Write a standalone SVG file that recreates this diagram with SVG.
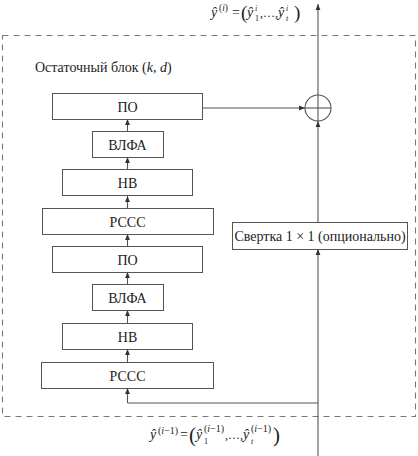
<svg xmlns="http://www.w3.org/2000/svg" width="418" height="456" viewBox="0 0 418 456" font-family="'Liberation Serif','DejaVu Serif',serif">
<defs>
<marker id="ah" viewBox="0 0 8 8" refX="8" refY="4" markerWidth="6" markerHeight="6" orient="auto" markerUnits="userSpaceOnUse">
<path d="M0,0.8 L8,4 L0,7.2 Z" fill="#333"/>
</marker>
<style>
.box{fill:#fff;stroke:#555;stroke-width:1}
.ln{fill:none;stroke:#555;stroke-width:1.1}
text{font-family:'Liberation Serif','DejaVu Serif',serif;fill:#222}
.lbl{font-size:14px;text-anchor:middle}
.it{font-style:italic}
</style>
</defs>
<rect x="2.5" y="35.5" width="413" height="381" fill="none" stroke="#777" stroke-width="1.1" stroke-dasharray="6,5"/>
<text x="35" y="72" font-size="14">Остаточный блок (<tspan class="it">k</tspan>, <tspan class="it">d</tspan>)</text>
<g id="connectors">
<line class="ln" x1="127.5" y1="403" x2="127.5" y2="388" marker-end="url(#ah)"/>
<line class="ln" x1="127.5" y1="362" x2="127.5" y2="349" marker-end="url(#ah)"/>
<line class="ln" x1="127.5" y1="323" x2="127.5" y2="310" marker-end="url(#ah)"/>
<line class="ln" x1="127.5" y1="284" x2="127.5" y2="272" marker-end="url(#ah)"/>
<line class="ln" x1="127.5" y1="246" x2="127.5" y2="234" marker-end="url(#ah)"/>
<line class="ln" x1="127.5" y1="208" x2="127.5" y2="196" marker-end="url(#ah)"/>
<line class="ln" x1="127.5" y1="169" x2="127.5" y2="157" marker-end="url(#ah)"/>
<line class="ln" x1="127.5" y1="131" x2="127.5" y2="119" marker-end="url(#ah)"/>
<polyline class="ln" points="318,403 127.5,403"/>
<line class="ln" x1="318" y1="456" x2="318" y2="249" marker-end="url(#ah)"/>
<line class="ln" x1="318" y1="222" x2="318" y2="121" marker-end="url(#ah)"/>
<line class="ln" x1="202" y1="108" x2="305" y2="108" marker-end="url(#ah)"/>
<line class="ln" x1="318" y1="95" x2="318" y2="4" marker-end="url(#ah)"/>
</g>
<g id="sum">
<circle cx="318" cy="108" r="13" fill="none" stroke="#555" stroke-width="1.1"/>
<line class="ln" x1="305" y1="108" x2="331" y2="108"/>
<line class="ln" x1="318" y1="95" x2="318" y2="121"/>
</g>
<g id="po1"><rect class="box" x="52.5" y="93.5" width="150" height="26"/><text class="lbl" x="127.5" y="111.5">ПО</text></g>
<g id="vlfa1"><rect class="box" x="92.5" y="131.5" width="71" height="26"/><text class="lbl" x="127.5" y="149.5">ВЛФА</text></g>
<g id="nv1"><rect class="box" x="62.5" y="169.5" width="130" height="26"/><text class="lbl" x="127.5" y="187.5">НВ</text></g>
<g id="rsss1"><rect class="box" x="42.5" y="208.5" width="171" height="26"/><text class="lbl" x="127.5" y="226.5">РССС</text></g>
<g id="po2"><rect class="box" x="52.5" y="246.5" width="150" height="26"/><text class="lbl" x="127.5" y="264.5">ПО</text></g>
<g id="vlfa2"><rect class="box" x="92.5" y="284.5" width="71" height="26"/><text class="lbl" x="127.5" y="302.5">ВЛФА</text></g>
<g id="nv2"><rect class="box" x="62.5" y="323.5" width="130" height="26"/><text class="lbl" x="127.5" y="341.5">НВ</text></g>
<g id="rsss2"><rect class="box" x="41.5" y="362.5" width="172" height="26"/><text class="lbl" x="127.5" y="380.5">РССС</text></g>
<g id="conv"><rect class="box" x="232.5" y="222.5" width="175" height="27"/><text class="lbl" x="320" y="240.5">Свертка 1 × 1 (опционально)</text></g>
<g id="out">
<text class="it" x="211" y="17" font-size="14">ŷ</text>
<text x="219" y="11" font-size="9.5">(<tspan class="it">i</tspan>)</text>
<text x="232" y="17" font-size="14">=</text>
<text x="241" y="19" font-size="19">(</text>
<text class="it" x="247" y="17" font-size="14">ŷ</text>
<text x="255" y="21" font-size="8">1</text>
<text class="it" x="255" y="11" font-size="8">i</text>
<text x="260" y="17" font-size="12">,…,</text>
<text class="it" x="278" y="17" font-size="14">ŷ</text>
<text class="it" x="286" y="21" font-size="8">t</text>
<text class="it" x="286" y="11" font-size="8">i</text>
<text x="294" y="19" font-size="19">)</text>
</g>
<g id="in">
<text class="it" x="150" y="439" font-size="14">ŷ</text>
<text x="158" y="434" font-size="10">(<tspan class="it">i</tspan>−1)</text>
<text x="180" y="439" font-size="14">=</text>
<text x="189" y="442" font-size="21">(</text>
<text class="it" x="196" y="439" font-size="14">ŷ</text>
<text x="204" y="444" font-size="8">1</text>
<text x="204" y="432" font-size="10">(<tspan class="it">i</tspan>−1)</text>
<text x="225" y="439" font-size="12">,…,</text>
<text class="it" x="243" y="439" font-size="14">ŷ</text>
<text class="it" x="251" y="444" font-size="8">t</text>
<text x="251" y="432" font-size="10">(<tspan class="it">i</tspan>−1)</text>
<text x="273" y="442" font-size="21">)</text>
</g>
</svg>
